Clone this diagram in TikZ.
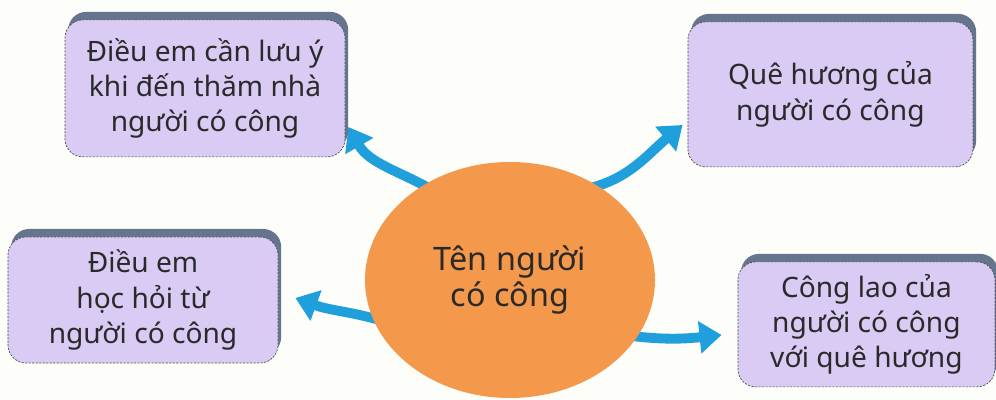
\documentclass[tikz,border=0pt]{standalone}
\usepackage{fontspec}
\setmainfont{Noto Sans}
\usetikzlibrary{shapes.geometric,arrows.meta,backgrounds,calc,shadows}
\definecolor{lavender}{HTML}{D9CBF3}
\definecolor{shadowgray}{HTML}{66758E}
\definecolor{carrot}{HTML}{F4984C}
\definecolor{skyarrow}{HTML}{1FA0DD}
\definecolor{paper}{HTML}{FDFDF9}
\definecolor{ink}{HTML}{2A2A2A}
\begin{document}
\begin{tikzpicture}[
    topic/.style={draw=gray!60!black, dash pattern=on 1.5pt off 1pt, line width=0.5pt,
        fill=lavender, rounded corners=0.45cm, align=center, text=ink, inner sep=0pt,
        font=\fontsize{20}{25}\selectfont,
        drop shadow={shadow xshift=0.08cm, shadow yshift=0.2cm, fill=shadowgray, opacity=1}},
    hubnode/.style={ellipse, fill=carrot, inner sep=0pt, align=center, text=ink,
        minimum width=7.25cm, minimum height=5.9cm, font=\fontsize{23}{26}\selectfont},
    link/.style={skyarrow, line width=7pt, -{Triangle[length=0.55cm,width=0.78cm]}}
]
    \useasboundingbox (0,0) rectangle (24.9,10);
    \begin{pgfonlayer}{background}
        \fill[paper] (0,0) rectangle (24.9,10);
    \end{pgfonlayer}

    % Centre - the person's name
    \node[hubnode] (hub) at (12.75,3.0) {Tên người\\có công};

    % Top row of topics
    \node[topic, minimum width=7cm, minimum height=3.425cm] (visit) at (5.125,7.79)
        {Điều em cần lưu ý\\khi đến thăm nhà\\người có công};
    \node[topic, minimum width=7.125cm, minimum height=3.625cm] (home) at (20.76,7.64)
        {Quê hương của\\người có công};

    % Bottom row of topics
    \node[topic, minimum width=6.75cm, minimum height=3.15cm] (learn) at (3.575,2.5)
        {Điều em\\học hỏi từ\\người có công};
    \node[topic, minimum width=6.425cm, minimum height=3.125cm] (merit) at (21.66,1.89)
        {Công lao của\\người có công\\với quê hương};

    % Arrows from the centre, behind the ellipse
    \begin{pgfonlayer}{background}
        \draw[link] ($(hub.center)!0.9!(hub.130)$) to[out=150,in=-60]
            ([shift={(0.075,-0.965)}]visit.east);
        \draw[link] ($(hub.center)!0.9!(hub.52)$) to[out=10,in=220]
            ([shift={(-0.125,-0.765)}]home.west);
        \draw[link] ($(hub.center)!0.9!(hub.200)$) to[out=162,in=-20]
            ([shift={(0.425,0.05)}]learn.east);
        \draw[link] ($(hub.center)!0.9!(hub.-26)$) to[out=-8,in=186]
            ([shift={(-0.4,-0.265)}]merit.west);
    \end{pgfonlayer}
\end{tikzpicture}
\end{document}
